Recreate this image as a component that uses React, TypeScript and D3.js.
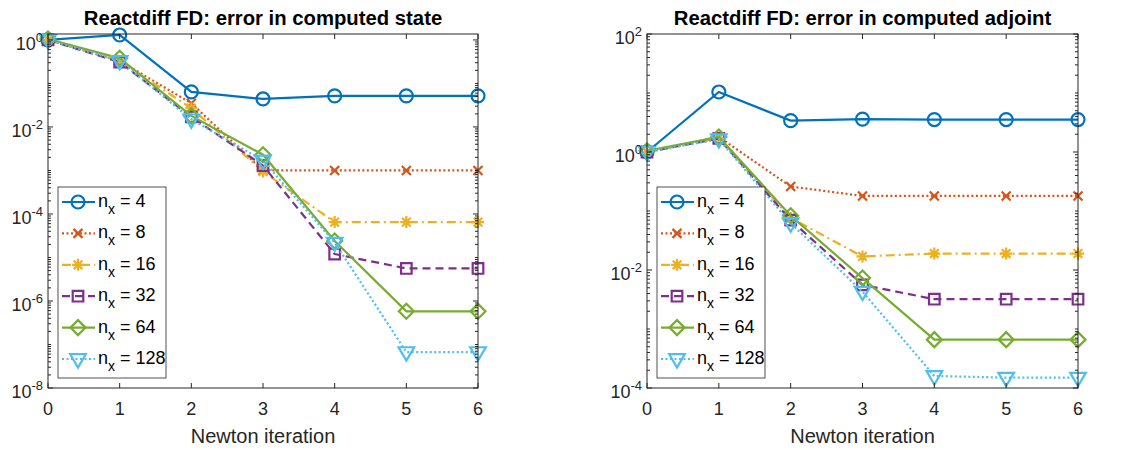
import React from 'react';
import * as d3 from 'd3';

// Newton iterations on the x axis
const iterations = [0, 1, 2, 3, 4, 5, 6];
const gridSizes = [4, 8, 16, 32, 64, 128];

// error in computed state (left panel), one list per n_x
const stateNx4 = [1, 1.3, 0.064, 0.044, 0.052, 0.052, 0.052];
const stateNx8 = [1, 0.33, 0.035, 1.0e-3, 1.0e-3, 1.0e-3, 1.0e-3];
const stateNx16 = [1, 0.33, 0.027, 9.5e-4, 6.5e-5, 6.5e-5, 6.5e-5];
const stateNx32 = [1, 0.31, 0.017, 1.3e-3, 1.2e-5, 5.6e-6, 5.6e-6];
const stateNx64 = [1.05, 0.38, 0.018, 2.3e-3, 2.4e-5, 5.8e-7, 5.8e-7];
const stateNx128 = [1, 0.33, 0.015, 1.7e-3, 2.2e-5, 6.7e-8, 6.7e-8];

// error in computed adjoint (right panel)
const adjNx4 = [1, 10.4, 3.4, 3.6, 3.55, 3.55, 3.55];
const adjNx8 = [1, 1.8, 0.26, 0.18, 0.18, 0.18, 0.18];
const adjNx16 = [1, 1.7, 0.076, 0.017, 0.019, 0.019, 0.019];
const adjNx32 = [1, 1.7, 0.07, 5.6e-3, 3.2e-3, 3.2e-3, 3.2e-3];
const adjNx64 = [1.05, 1.8, 0.083, 7.3e-3, 6.6e-4, 6.6e-4, 6.6e-4];
const adjNx128 = [1, 1.65, 0.062, 4.3e-3, 1.6e-4, 1.5e-4, 1.5e-4];

const stateSeries = [stateNx4, stateNx8, stateNx16, stateNx32, stateNx64, stateNx128];
const adjSeries = [adjNx4, adjNx8, adjNx16, adjNx32, adjNx64, adjNx128];

const colors = ['#0072BD', '#D95319', '#EDB120', '#7E2F8E', '#77AC30', '#4DBEEE'];
const dashes = [null, '2,2.5', '9,4,2,4', '8,5', null, '2,2.5'];
const markers = ['circle', 'times', 'asterisk', 'square', 'diamond', 'triangleDown'];

const axisColor = '#262626';
const font = '"Liberation Sans", Arial, Helvetica, sans-serif';

function markerPath(kind: string): string {
  switch (kind) {
    case 'circle':
      return 'M6.5,0A6.5,6.5 0 1,1 -6.5,0A6.5,6.5 0 1,1 6.5,0Z';
    case 'times':
      return 'M-4.5,-4.5L4.5,4.5M-4.5,4.5L4.5,-4.5';
    case 'asterisk':
      return 'M-6,0L6,0M0,-6L0,6M-4.3,-4.3L4.3,4.3M-4.3,4.3L4.3,-4.3';
    case 'square':
      return 'M-5.3,-5.3L5.3,-5.3L5.3,5.3L-5.3,5.3Z';
    case 'diamond':
      return 'M0,-7.5L7.5,0L0,7.5L-7.5,0Z';
    case 'triangleDown':
      return 'M-7.8,-4.8L7.8,-4.8L0,8.5Z';
    default:
      return '';
  }
}

function Panel({ left, right, top, bottom, yDomain, series, title }: any) {
  const x = d3.scaleLinear().domain([0, 6]).range([left, right]);
  const y = d3.scaleLog().domain(yDomain).range([bottom, top]);
  const line = d3.line<number>().x((_, i) => x(iterations[i])).y((d) => y(d));

  const allTicks = y.ticks(12);
  const isMajor = (v: number) => {
    const e = Math.log10(v);
    return Math.abs(e - Math.round(e)) < 1e-9 && Math.round(e) % 2 === 0;
  };
  const minorTicks = allTicks.filter((v) => !isMajor(v));
  const majorTicks = allTicks.filter(isMajor);
  const xTicks = x.ticks(6);

  const legendX = left + 10;
  const legendY = 187;
  const rowH = 31.4;

  return (
    <g fontFamily={font}>
      <text x={(left + right) / 2} y={25} textAnchor="middle" fontWeight="bold" fontSize={20.3} fill="#000">
        {title}
      </text>
      <rect x={left} y={top} width={right - left} height={bottom - top} fill="#fff" />
      {/* data */}
      {series.map((vals: number[], si: number) => (
        <g key={si}>
          <path
            d={line(vals) || ''}
            fill="none"
            stroke={colors[si]}
            strokeWidth={2.2}
            strokeDasharray={dashes[si] || undefined}
          />
          {vals.map((v, i) => (
            <path
              key={i}
              d={markerPath(markers[si])}
              transform={`translate(${x(iterations[i])},${y(v)})`}
              fill="none"
              stroke={colors[si]}
              strokeWidth={2.2}
            />
          ))}
        </g>
      ))}
      {/* axes box and ticks */}
      <rect x={left} y={top} width={right - left} height={bottom - top} fill="none" stroke={axisColor} strokeWidth={1} />
      {xTicks.map((t) => (
        <g key={'x' + t}>
          <line x1={x(t)} x2={x(t)} y1={bottom} y2={bottom - 5} stroke={axisColor} />
          <line x1={x(t)} x2={x(t)} y1={top} y2={top + 5} stroke={axisColor} />
          <text x={x(t)} y={bottom + 27} textAnchor="middle" fontSize={18} fill={axisColor}>
            {t}
          </text>
        </g>
      ))}
      {minorTicks.map((t, i) => (
        <g key={'m' + i}>
          <line x1={left} x2={left + 3} y1={y(t)} y2={y(t)} stroke={axisColor} />
          <line x1={right} x2={right - 3} y1={y(t)} y2={y(t)} stroke={axisColor} />
        </g>
      ))}
      {majorTicks.map((t) => (
        <g key={'M' + t}>
          <line x1={left} x2={left + 5} y1={y(t)} y2={y(t)} stroke={axisColor} />
          <line x1={right} x2={right - 5} y1={y(t)} y2={y(t)} stroke={axisColor} />
          <text x={left - 5} y={y(t) + 10} textAnchor="end" fontSize={18} fill={axisColor}>
            10
            <tspan fontSize={13} dy={-8}>
              {Math.round(Math.log10(t))}
            </tspan>
          </text>
        </g>
      ))}
      <text x={(left + right) / 2} y={443} textAnchor="middle" fontSize={20} fill={axisColor}>
        Newton iteration
      </text>
      {/* legend */}
      <rect x={legendX} y={legendY} width={108} height={191} fill="#fff" stroke={axisColor} strokeWidth={0.8} />
      {gridSizes.map((n, i) => {
        const cy = legendY + 15 + i * rowH;
        return (
          <g key={'l' + n}>
            <line
              x1={legendX + 4}
              x2={legendX + 37}
              y1={cy}
              y2={cy}
              stroke={colors[i]}
              strokeWidth={2.2}
              strokeDasharray={dashes[i] || undefined}
            />
            <path
              d={markerPath(markers[i])}
              transform={`translate(${legendX + 20},${cy})`}
              fill="none"
              stroke={colors[i]}
              strokeWidth={2.2}
            />
            <text x={legendX + 40} y={cy + 5} fontSize={18} fill="#000">
              n
              <tspan fontSize={14} dy={7}>x</tspan>
              <tspan dy={-7}>{' = ' + n}</tspan>
            </text>
          </g>
        );
      })}
    </g>
  );
}

export default function App() {
  return (
    <svg
      width={1126}
      height={450}
      style={{ position: 'absolute', left: 0, top: 0, background: '#fff' }}
    >
      <rect width={1126} height={450} fill="#fff" />
      <Panel
        left={48}
        right={478}
        top={34}
        bottom={388}
        yDomain={[1e-8, 1.37]}
        series={stateSeries}
        title="Reactdiff FD: error in computed state"
      />
      <Panel
        left={647}
        right={1078}
        top={34}
        bottom={388}
        yDomain={[1e-4, 1e2]}
        series={adjSeries}
        title="Reactdiff FD: error in computed adjoint"
      />
    </svg>
  );
}
